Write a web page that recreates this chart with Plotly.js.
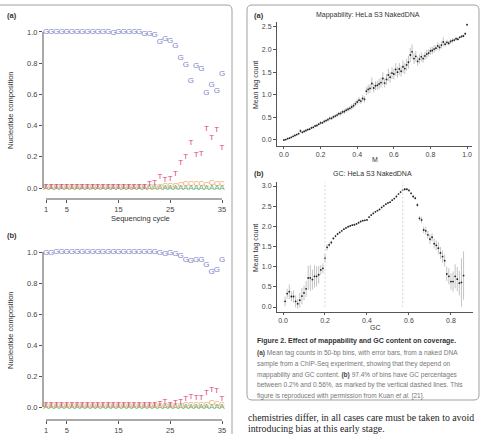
<!DOCTYPE html>
<html>
<head>
<meta charset="utf-8">
<script src="https://cdn.plot.ly/plotly-3.0.1.min.js"></script>
<style>html,body{margin:0;padding:0;background:#fff;}#chart{width:485px;height:434px;}</style>
</head>
<body>
<div id="chart"></div>
<script>
// ---------- data ----------
const cycles = [1,2,3,4,5,6,7,8,9,10,11,12,13,14,15,16,17,18,19,20,21,22,23,24,25,26,27,28,29,30,31,32,33,34,35];
const cycleTicks = [1,5,15,25,35];

// panel (a) nucleotide composition
const aG = [1.0,1.0,1.0,1.0,1.0,1.0,1.0,1.0,1.0,1.0,1.0,1.0,1.0,0.995,1.0,1.0,1.0,1.0,1.0,0.99,0.985,0.98,0.934,0.953,0.945,0.913,0.836,0.787,0.689,0.783,0.765,0.612,0.659,0.625,0.733];
const aT = [0.008,0.008,0.008,0.008,0.008,0.008,0.008,0.008,0.008,0.008,0.008,0.008,0.008,0.008,0.008,0.008,0.008,0.008,0.008,0.008,0.026,0.03,0.07,0.053,0.058,0.09,0.16,0.2,0.29,0.21,0.22,0.38,0.32,0.373,0.256];
const aC = [0.004,0.004,0.004,0.004,0.004,0.004,0.004,0.004,0.004,0.004,0.004,0.004,0.004,0.004,0.004,0.004,0.004,0.004,0.004,0.004,0.005,0.006,0.008,0.01,0.012,0.015,0.02,0.024,0.028,0.026,0.026,0.022,0.035,0.026,0.024];
const aA = [0.002,0.002,0.002,0.002,0.002,0.002,0.002,0.002,0.002,0.002,0.002,0.002,0.002,0.002,0.002,0.002,0.002,0.002,0.002,0.002,0.001,0.001,0.0,0.0,0.0,0.0,0.0,0.0,0.0,0.0,0.0,0.0,0.0,0.0,0.0];

// panel (b) nucleotide composition
const bG = [0.993,0.993,1.0,1.0,1.0,0.998,0.998,0.998,0.998,0.998,0.998,0.998,0.998,1.0,1.0,0.998,0.998,0.998,0.998,0.998,0.998,0.998,0.995,0.985,0.996,0.99,0.975,0.946,0.942,0.946,0.95,0.918,0.869,0.886,0.95];
const bT = [0.01,0.01,0.01,0.01,0.01,0.01,0.01,0.01,0.01,0.01,0.01,0.01,0.01,0.01,0.01,0.01,0.01,0.01,0.01,0.01,0.013,0.013,0.02,0.03,0.015,0.024,0.03,0.053,0.066,0.055,0.055,0.09,0.11,0.105,0.05];
const bC = [0.004,0.004,0.004,0.004,0.004,0.004,0.004,0.004,0.004,0.004,0.004,0.004,0.004,0.004,0.004,0.004,0.004,0.004,0.004,0.004,0.004,0.004,0.004,0.004,0.004,0.006,0.008,0.01,0.01,0.012,0.012,0.015,0.025,0.02,0.015];
const bA = [0.002,0.002,0.002,0.002,0.002,0.002,0.002,0.002,0.002,0.002,0.002,0.002,0.002,0.002,0.002,0.002,0.002,0.002,0.002,0.002,0.002,0.002,0.001,0.001,0.0,0.0,0.0,0.0,0.0,0.0,0.0,0.0,0.0,0.0,0.0];

// mappability
const mapM = [0.00,0.01,0.02,0.03,0.04,0.05,0.06,0.07,0.08,0.09,0.10,0.11,0.12,0.13,0.14,0.15,0.16,0.17,0.18,0.19,0.20,0.21,0.22,0.23,0.24,0.25,0.26,0.27,0.28,0.29,0.30,0.31,0.32,0.33,0.34,0.35,0.36,0.37,0.38,0.39,0.40,0.41,0.42,0.43,0.44,0.45,0.46,0.47,0.48,0.49,0.50,0.51,0.52,0.53,0.54,0.55,0.56,0.57,0.58,0.59,0.60,0.61,0.62,0.63,0.64,0.65,0.66,0.67,0.68,0.69,0.70,0.71,0.72,0.73,0.74,0.75,0.76,0.77,0.78,0.79,0.80,0.81,0.82,0.83,0.84,0.85,0.86,0.87,0.88,0.89,0.90,0.91,0.92,0.93,0.94,0.95,0.96,0.97,0.98,0.99,1.00];
const mapMean = [0.00,0.01,0.03,0.04,0.06,0.08,0.10,0.12,0.14,0.20,0.17,0.19,0.21,0.23,0.24,0.27,0.28,0.31,0.32,0.35,0.38,0.38,0.41,0.43,0.45,0.48,0.48,0.51,0.53,0.55,0.58,0.59,0.62,0.63,0.66,0.68,0.70,0.73,0.76,0.80,0.84,0.88,0.86,0.92,0.90,1.08,1.12,1.14,1.25,1.15,1.20,1.21,1.24,1.27,1.36,1.26,1.34,1.44,1.39,1.48,1.46,1.56,1.50,1.57,1.52,1.62,1.58,1.66,1.72,1.88,1.95,1.80,1.85,1.74,1.79,1.84,1.80,1.86,1.90,1.92,1.97,1.98,2.01,2.03,2.08,2.05,2.10,2.17,2.12,2.16,2.14,2.18,2.20,2.21,2.24,2.23,2.27,2.29,2.30,2.35,2.55];
const mapErr = [0.01,0.01,0.01,0.02,0.02,0.02,0.02,0.02,0.02,0.04,0.02,0.03,0.03,0.03,0.03,0.03,0.03,0.03,0.03,0.03,0.04,0.03,0.04,0.04,0.04,0.04,0.04,0.04,0.04,0.05,0.04,0.05,0.05,0.05,0.05,0.05,0.05,0.06,0.06,0.06,0.06,0.07,0.06,0.07,0.07,0.09,0.10,0.10,0.13,0.10,0.10,0.10,0.11,0.11,0.14,0.10,0.12,0.14,0.12,0.13,0.12,0.14,0.12,0.13,0.12,0.14,0.12,0.13,0.14,0.16,0.16,0.12,0.12,0.10,0.10,0.10,0.09,0.09,0.10,0.08,0.08,0.08,0.08,0.07,0.08,0.07,0.08,0.10,0.06,0.06,0.05,0.05,0.05,0.04,0.04,0.04,0.03,0.03,0.03,0.03,0.02];

// GC
const gcX = [0.01,0.02,0.03,0.04,0.05,0.06,0.07,0.08,0.09,0.10,0.11,0.12,0.13,0.14,0.15,0.16,0.17,0.18,0.19,0.20,0.21,0.22,0.23,0.24,0.25,0.26,0.27,0.28,0.29,0.30,0.31,0.32,0.33,0.34,0.35,0.36,0.37,0.38,0.39,0.40,0.41,0.42,0.43,0.44,0.45,0.46,0.47,0.48,0.49,0.50,0.51,0.52,0.53,0.54,0.55,0.56,0.57,0.58,0.59,0.60,0.61,0.62,0.63,0.64,0.65,0.66,0.67,0.68,0.69,0.70,0.71,0.72,0.73,0.74,0.75,0.76,0.77,0.78,0.79,0.80,0.81,0.82,0.83,0.84,0.85,0.86];
const gcMean = [0.14,0.33,0.38,0.26,0.26,0.14,0.08,0.17,0.27,0.35,0.45,0.72,0.72,0.68,0.76,0.76,0.80,0.92,0.96,1.21,1.48,1.54,1.60,1.70,1.76,1.81,1.85,1.89,1.93,1.96,1.99,2.01,2.03,2.04,2.06,2.09,2.12,2.14,2.15,2.16,2.23,2.28,2.32,2.36,2.39,2.42,2.47,2.51,2.55,2.58,2.60,2.65,2.69,2.74,2.80,2.85,2.90,2.92,2.92,2.89,2.82,2.74,2.70,2.53,2.20,2.16,1.91,1.89,1.79,1.68,1.73,1.57,1.53,1.46,1.34,1.25,1.15,0.82,0.76,0.63,0.63,0.76,0.69,0.59,0.61,0.78];
const gcErr = [0.12,0.12,0.18,0.12,0.15,0.15,0.12,0.18,0.20,0.18,0.20,0.30,0.32,0.25,0.28,0.25,0.22,0.12,0.12,0.10,0.08,0.06,0.05,0.03,0.03,0.03,0.02,0.02,0.02,0.02,0.02,0.02,0.02,0.02,0.02,0.02,0.02,0.02,0.02,0.02,0.02,0.02,0.02,0.02,0.02,0.02,0.02,0.02,0.02,0.02,0.02,0.02,0.02,0.02,0.02,0.03,0.03,0.03,0.03,0.03,0.03,0.04,0.04,0.05,0.06,0.08,0.08,0.10,0.10,0.12,0.10,0.12,0.12,0.15,0.15,0.15,0.15,0.18,0.20,0.20,0.25,0.30,0.30,0.30,0.60,0.60];
const gcLines = [0.2, 0.57];

// ---------- helpers (page pixels -> paper) ----------
const W = 485, H = 434;
const PX = px => px / W;
const PY = py => 1 - py / H;

const colG = '#7b7fc9', colT = '#e0447f', colC = '#e9a35e', colA = '#5fb27a';
const sans = 'Liberation Sans, Arial, sans-serif';
const tickFont = {family: sans, size: 7.5, color: '#444'};

function letters(x, y, ch, col, xa, ya) {
  return {x: x, y: y, mode: 'text', type: 'scatter', text: y.map(() => ch),
    textfont: {family: sans, size: 8, color: col},
    textposition: 'middle center', cliponaxis: false, xaxis: xa, yaxis: ya, hoverinfo: 'skip'};
}

const traces = [
  letters(cycles, aA, 'A', colA, 'x', 'y'),
  letters(cycles, aC, 'C', colC, 'x', 'y'),
  letters(cycles, aT, 'T', colT, 'x', 'y'),
  letters(cycles, aG, 'G', colG, 'x', 'y'),
  letters(cycles, bA, 'A', colA, 'x2', 'y2'),
  letters(cycles, bC, 'C', colC, 'x2', 'y2'),
  letters(cycles, bT, 'T', colT, 'x2', 'y2'),
  letters(cycles, bG, 'G', colG, 'x2', 'y2'),
  {x: mapM, y: mapMean, type: 'scatter', mode: 'markers', xaxis: 'x3', yaxis: 'y3',
   marker: {size: 1.8, color: '#222'},
   error_y: {type: 'data', array: mapErr, visible: true, color: '#aaa', thickness: 0.7, width: 0}, cliponaxis: false},
  {x: gcX, y: gcMean, type: 'scatter', mode: 'markers', xaxis: 'x4', yaxis: 'y4',
   marker: {size: 1.8, color: '#222'},
   error_y: {type: 'data', array: gcErr, visible: true, color: '#aaa', thickness: 0.7, width: 0}, cliponaxis: false}
];

function ax(extra) {
  return Object.assign({showgrid: false, zeroline: false, ticks: 'outside', ticklen: 3, tickwidth: 1,
    tickcolor: '#555', tickfont: tickFont, fixedrange: true}, extra);
}
const rightTick = {size: 7, color: '#444', family: sans};

const leftX = [PX(43), PX(228)];
const layout = {
  width: W, height: H, margin: {l: 0, r: 0, t: 0, b: 0}, autosize: false,
  paper_bgcolor: '#fff', plot_bgcolor: 'rgba(0,0,0,0)', showlegend: false,
  xaxis: ax({domain: leftX, range: [0.42, 36.16], tickvals: cycleTicks, anchor: 'y', showline: false}),
  yaxis: ax({domain: [PY(199), PY(28)], range: [-0.0705, 1.0256], tickvals: [0,0.2,0.4,0.6,0.8,1.0], tickformat: '.1f', anchor: 'x', showline: false}),
  xaxis2: ax({domain: leftX, range: [0.42, 36.16], tickvals: cycleTicks, anchor: 'y2', showline: false}),
  yaxis2: ax({domain: [PY(420), PY(248)], range: [-0.0839, 1.0258], tickvals: [0,0.2,0.4,0.6,0.8,1.0], tickformat: '.1f', anchor: 'x2', showline: false}),
  xaxis3: ax({domain: [PX(277), PX(472)], range: [-0.038, 1.027], tickvals: [0,0.2,0.4,0.6,0.8,1.0], tickformat: '.1f', anchor: 'y3', showline: true, linecolor: '#555', linewidth: 1, ticklen: 2, tickfont: rightTick}),
  yaxis3: ax({domain: [PY(146), PY(22)], range: [-0.133, 2.61], tickvals: [0,0.5,1.0,1.5,2.0,2.5], tickformat: '.1f', anchor: 'x3', showline: true, linecolor: '#555', linewidth: 1, tickfont: rightTick}),
  xaxis4: ax({domain: [PX(277), PX(473)], range: [-0.0286, 0.905], tickvals: [0,0.2,0.4,0.6,0.8], tickformat: '.1f', anchor: 'y4', showline: true, linecolor: '#555', linewidth: 1, ticklen: 2, tickfont: rightTick}),
  yaxis4: ax({domain: [PY(312), PY(182)], range: [-0.124, 3.10], tickvals: [0,0.5,1.0,1.5,2.0,2.5,3.0], tickformat: '.1f', anchor: 'x4', showline: true, linecolor: '#555', linewidth: 1, tickfont: rightTick}),
  shapes: [],
  annotations: []
};

// R-style axis lines spanning the tick range only (left panels)
[['x','y'],['x2','y2']].forEach(([xa, ya]) => {
  layout.shapes.push({type: 'line', xref: xa + ' domain', yref: ya, x0: 0, x1: 0, y0: 0, y1: 1, line: {color: '#555', width: 1}});
  layout.shapes.push({type: 'line', xref: xa, yref: ya + ' domain', x0: cycleTicks[0], x1: cycleTicks[cycleTicks.length-1], y0: 0, y1: 0, line: {color: '#555', width: 1}});
});

// dashed GC lines
gcLines.forEach(v => layout.shapes.push({type: 'line', xref: 'x4', yref: 'y4 domain', x0: v, x1: v, y0: 0.04, y1: 1,
  line: {color: '#cfcfcf', width: 0.8, dash: '2px,2px'}}));

// panel borders
function roundBox(x0, y0, x1, y1, r) {
  const p = (x, y) => PX(x) + ',' + PY(y);
  return 'M' + p(x0 + r, y0) + ' L' + p(x1 - r, y0) + ' Q' + p(x1, y0) + ' ' + p(x1, y0 + r) +
    ' L' + p(x1, y1 - r) + ' Q' + p(x1, y1) + ' ' + p(x1 - r, y1) + ' L' + p(x0 + r, y1) +
    ' Q' + p(x0, y1) + ' ' + p(x0, y1 - r) + ' L' + p(x0, y0 + r) + ' Q' + p(x0, y0) + ' ' + p(x0 + r, y0) + ' Z';
}
layout.shapes.push({type: 'path', xref: 'paper', yref: 'paper', path: roundBox(-20, 5, 232, 460, 5), line: {color: '#a0a0a0', width: 1}});
layout.shapes.push({type: 'path', xref: 'paper', yref: 'paper', path: roundBox(247, 5, 479, 400, 5), line: {color: '#a0a0a0', width: 1}});

// text
function ann(text, px, py, o) {
  o = o || {};
  layout.annotations.push(Object.assign({xref: 'paper', yref: 'paper', x: PX(px), y: PY(py), text: text, showarrow: false,
    xanchor: 'center', yanchor: 'middle', font: {family: sans, size: 7.5, color: '#333'}}, o));
}
ann('<b>(a)</b>', 5, 15, {xanchor: 'left'});
ann('<b>(b)</b>', 5, 235, {xanchor: 'left'});
ann('Nucleotide composition', 10, 110, {textangle: -90});
ann('Nucleotide composition', 10, 330, {textangle: -90});
ann('Sequencing cycle', 140, 218);

const small = {family: sans, size: 7, color: '#333'};
ann('<b>(a)</b>', 252, 15, {xanchor: 'left'});
ann('Mappability: HeLa S3 NakedDNA', 368, 15, {font: small});
ann('Mean tag count', 256, 85, {textangle: -90, font: small});
ann('M', 375, 160, {font: small});
ann('<b>(b)</b>', 252, 174, {xanchor: 'left'});
ann('GC: HeLa S3 NakedDNA', 372, 174, {font: small});
ann('Mean tag count', 256, 248, {textangle: -90, font: small});
ann('GC', 375, 327.5, {font: small});

const capLines = [
  ['<b>Figure 2. Effect of mappability and GC content on coverage.</b>', 341, '#333', 7],
  ['<b style="color:#444">(a)</b> Mean tag counts in 50-bp bins, with error bars, from a naked DNA', 353, '#777', 6.55],
  ['sample from a ChIP-Seq experiment, showing that they depend on', 364, '#777', 6.55],
  ['mappability and GC content. <b style="color:#444">(b)</b> 97.4% of bins have GC percentages', 374.5, '#777', 6.55],
  ['between 0.2% and 0.56%, as marked by the vertical dashed lines. This', 385, '#777', 6.55],
  ['figure is reproduced with permission from Kuan <i>et al.</i> [21].', 395.5, '#777', 6.55]
];
capLines.forEach(([t, py, c, s]) => ann(t, 255, py, {xanchor: 'left', font: {family: sans, size: s, color: c}}));

const serif = 'Liberation Serif, Times New Roman, serif';
ann('chemistries differ, in all cases care must be taken to avoid', 246, 417, {xanchor: 'left', font: {family: serif, size: 9.8, color: '#222'}});
ann('introducing bias at this early stage.', 246, 428, {xanchor: 'left', font: {family: serif, size: 9.8, color: '#222'}});

Plotly.newPlot('chart', traces, layout, {staticPlot: true, displayModeBar: false});
</script>
</body>
</html>
